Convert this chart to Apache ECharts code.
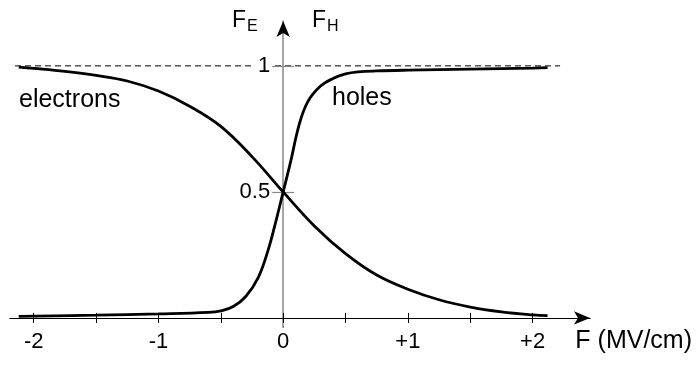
<!DOCTYPE html>
<html>
<head>
<meta charset="utf-8">
<script src="https://cdn.jsdelivr.net/npm/echarts@6/dist/echarts.min.js"></script>
<style>
html,body{margin:0;padding:0;background:#fff;}
#chart{width:699px;height:365px;}
</style>
</head>
<body>
<div id="chart"></div>
<script>
// Electron occupancy F_E vs field F (MV/cm)
var electronX = [-2.12,-2.0,-1.75,-1.5,-1.25,-1.0,-0.75,-0.5,-0.25,0,0.25,0.5,0.75,1.0,1.25,1.5,1.75,2.0,2.12];
var electronY = [0.995,0.99,0.978,0.962,0.94,0.9,0.84,0.76,0.64,0.5,0.365,0.255,0.17,0.114,0.072,0.043,0.024,0.012,0.009];
// Hole occupancy F_H vs field F (MV/cm)
var holeX = [-2.12,-1.5,-1.0,-0.6,-0.5,-0.4,-0.3,-0.2,-0.12,-0.06,0,0.06,0.13,0.2,0.3,0.4,0.5,0.6,0.75,1.0,1.5,2.0,2.12];
var holeY = [0.006,0.011,0.016,0.022,0.028,0.045,0.085,0.16,0.27,0.38,0.5,0.62,0.77,0.86,0.92,0.95,0.968,0.976,0.98,0.983,0.987,0.991,0.993];
// Reference dashed line at F = 1
var refX = [-2.15, 2.22];
var refY = [1, 1];
// Ticks and labels
var xTickValues = [-2,-1.5,-1,-0.5,0,0.5,1,1.5,2];
var xLabelValues = [-2,-1,0,1,2];
var yTickValues = [0.5, 1];
var yLabelValues = [0.5, 1];

var FONT = 'Liberation Sans, Arial, Helvetica, sans-serif';
function pairs(xs, ys){ return xs.map(function(x,i){ return [x, ys[i]]; }); }

var XMIN = -2.19, XMAX = 2.46, YMIN = -0.036, YMAX = 1.178;
var W = 699, H = 365;
var GL = 10, GR = 109, GT = 21, GB = 38;
var gw = W - GL - GR, gh = H - GT - GB;
// where the zero lines fall inside the grid (derived from the scales)
var x0 = GL + (0 - XMIN) / (XMAX - XMIN) * gw;
var y0 = GT + (YMAX - 0) / (YMAX - YMIN) * gh;

var chart = echarts.init(document.getElementById('chart'), null, {renderer:'canvas'});
chart.setOption({
  animation: false,
  backgroundColor: '#fff',
  grid: {left: GL, right: GR, top: GT, bottom: GB, containLabel: false, outerBoundsMode: 'none'},
  xAxis: [
    {type:'value', position:'bottom', offset: -((GT + gh) - y0), min:XMIN, max:XMAX, splitLine:{show:false},
     axisLine:{show:true, onZero:false, symbol:['none','arrow'], symbolSize:[10,16], lineStyle:{color:'#000', width:1}},
     axisTick:{show:true, inside:false, length:5, customValues:xTickValues, lineStyle:{color:'#000', width:1}},
     axisLabel:{show:true, customValues:xLabelValues, margin:13, color:'#000', fontSize:22, fontFamily:FONT,
       formatter:function(v){ return v > 0 ? '+' + v : String(v); }}},
    {type:'value', position:'top', offset: -(y0 - GT), min:XMIN, max:XMAX, splitLine:{show:false},
     axisLine:{show:true, onZero:false, lineStyle:{color:'#000', width:1}},
     axisTick:{show:true, inside:false, length:5, customValues:xTickValues, lineStyle:{color:'#000', width:1}},
     axisLabel:{show:false}}
  ],
  yAxis: [
    {type:'value', position:'left', offset: -(x0 - GL), min:YMIN, max:YMAX, splitLine:{show:false},
     axisLine:{show:true, onZero:false, lineStyle:{color:'#888', width:1.5}},
     axisTick:{show:true, inside:false, length:11, customValues:yTickValues, lineStyle:{color:'#888', width:1.2}},
     axisLabel:{show:true, customValues:yLabelValues, margin:12, color:'#000', fontSize:22, fontFamily:FONT,
       backgroundColor:'#fff', padding:[0,1,0,5],
       formatter:function(v){ return String(v); }}},
    {type:'value', position:'right', offset: -((GL + gw) - x0), min:YMIN, max:YMAX, splitLine:{show:false},
     axisLine:{show:true, onZero:false, symbol:['none','arrow'], symbolSize:[10,16], lineStyle:{color:'#000', width:1, type:[0,10000]}},
     axisTick:{show:true, inside:false, length:11, customValues:yTickValues, lineStyle:{color:'#888', width:1.2}},
     axisLabel:{show:false}}
  ],
  series: [
    {type:'line', name:'ref', data:pairs(refX, refY), showSymbol:false, silent:true,
     lineStyle:{color:'#000', width:1, type:[6,4]}, z:-1},
    {type:'line', name:'electrons', data:pairs(electronX, electronY), showSymbol:false, smooth:0.4,
     lineStyle:{color:'#000', width:2.8}, z:3},
    {type:'line', name:'holes', data:pairs(holeX, holeY), showSymbol:false, smooth:0.4,
     lineStyle:{color:'#000', width:2.8}, z:3}
  ],
  graphic: [
    {type:'text', x:19, y:100, style:{text:'electrons', fill:'#000', font:'25px ' + FONT, textVerticalAlign:'middle'}},
    {type:'text', x:332, y:98, style:{text:'holes', fill:'#000', font:'25px ' + FONT, textVerticalAlign:'middle'}},
    {type:'text', x:692, y:341, style:{text:'F (MV/cm)', fill:'#000', font:'25px ' + FONT, textAlign:'right', textVerticalAlign:'middle'}},
    {type:'text', x:232, y:21, style:{text:'{a|F}{b|E}', fill:'#000', textVerticalAlign:'middle',
      rich:{a:{fontSize:23, fontFamily:FONT, fill:'#000'}, b:{fontSize:16, fontFamily:FONT, fill:'#000', padding:[12,0,0,1]}}}},
    {type:'text', x:312, y:21, style:{text:'{a|F}{b|H}', fill:'#000', textVerticalAlign:'middle',
      rich:{a:{fontSize:23, fontFamily:FONT, fill:'#000'}, b:{fontSize:16, fontFamily:FONT, fill:'#000', padding:[12,0,0,1]}}}}
  ]
});
</script>
</body>
</html>
